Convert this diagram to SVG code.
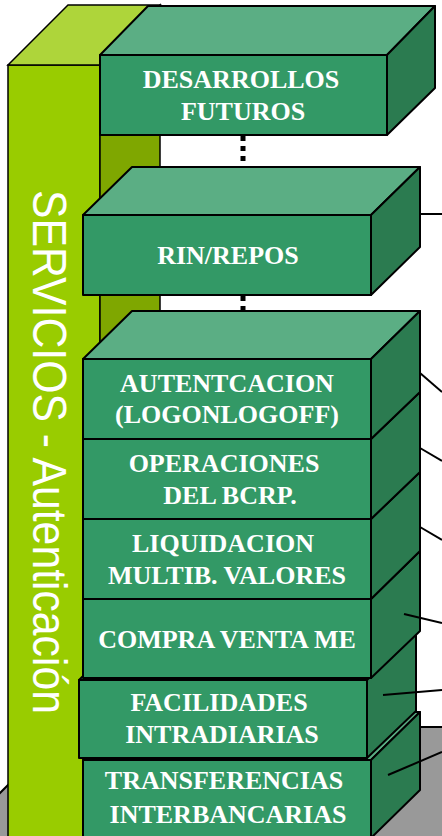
<svg xmlns="http://www.w3.org/2000/svg" width="442" height="836" viewBox="0 0 442 836">
<style>
.front{fill:#339966;stroke:#000;stroke-width:2;stroke-linejoin:round}
.top{fill:#5BAE84;stroke:#000;stroke-width:2;stroke-linejoin:round}
.side{fill:#2B7B50;stroke:#000;stroke-width:2;stroke-linejoin:round}
.lbl{font-family:"Liberation Serif","Times New Roman",serif;font-weight:bold;font-size:26px;fill:#fff;text-anchor:middle}
.conn{stroke:#000;stroke-width:2;fill:none}
.dots{stroke:#000;stroke-width:5;fill:none;stroke-dasharray:5 5}
</style>
<rect width="442" height="836" fill="#fff"/>
<g id="floor">
<polygon points="66,727 442,727 442,836 -43,836" fill="#999999"/>
<polyline points="-43,836 66,727 442,727" fill="none" stroke="#000" stroke-width="2"/>
</g>
<g id="servicios">
<polygon points="8,65 100,65 100,900 8,900" fill="#99CC00" stroke="#000" stroke-width="1.5"/>
<polygon points="8,65 68,5 160,5 100,65" fill="#AED53A" stroke="#000" stroke-width="1.5"/>
<polygon points="100,65 160,5 160,900 100,960" fill="#7FA700" stroke="#000" stroke-width="1.5"/>
<text transform="translate(33,190) rotate(90)" font-family="Liberation Sans, Arial, sans-serif" font-size="48" fill="#fff" textLength="524" lengthAdjust="spacingAndGlyphs">SERVICIOS - Autenticación</text>
</g>
<g id="desarrollos">
<polygon class="top" points="100,55 148,6 435,6 387,55"/>
<polygon class="side" points="387,55 435,6 435,88 387,135"/>
<rect class="front" x="100" y="55" width="287" height="80"/>
<text class="lbl" x="241" y="88">DESARROLLOS</text>
<text class="lbl" x="243" y="120">FUTUROS</text>
</g>
<g id="rin">
<polygon class="top" points="83,215 132,167 420,167 371,215"/>
<polygon class="side" points="371,215 420,167 420,247 371,295"/>
<rect class="front" x="83" y="215" width="288" height="80"/>
<text class="lbl" x="228" y="264">RIN/REPOS</text>
</g>
<g id="transferencias">
<polygon class="top" points="83,760 132,712 420,712 371,760"/>
<polygon class="side" points="371,760 420,712 420,790 371,838"/>
<rect class="front" x="83" y="760" width="288" height="78"/>
<text class="lbl" x="224" y="789">TRANSFERENCIAS</text>
<text class="lbl" x="228" y="823">INTERBANCARIAS</text>
</g>
<g id="facilidades">
<polygon class="top" points="79,680 128,632 416,632 367,680"/>
<polygon class="side" points="367,680 416,632 416,711 367,758"/>
<rect class="front" x="79" y="680" width="288" height="78"/>
<text class="lbl" x="219" y="711">FACILIDADES</text>
<text class="lbl" x="222" y="743">INTRADIARIAS</text>
</g>
<g id="compra">
<polygon class="top" points="83,599 132,551 420,551 371,599"/>
<polygon class="side" points="371,599 420,551 420,631 371,678"/>
<rect class="front" x="83" y="599" width="288" height="79"/>
<text class="lbl" x="227" y="648">COMPRA VENTA ME</text>
</g>
<g id="liquidacion">
<polygon class="top" points="83,519 132,472 420,472 371,519"/>
<polygon class="side" points="371,519 420,472 420,551 371,599"/>
<rect class="front" x="83" y="519" width="288" height="80"/>
<text class="lbl" x="223" y="552">LIQUIDACION</text>
<text class="lbl" x="227" y="584">MULTIB. VALORES</text>
</g>
<g id="operaciones">
<polygon class="top" points="83,439 132,392 420,392 371,439"/>
<polygon class="side" points="371,439 420,392 420,472 371,519"/>
<rect class="front" x="83" y="439" width="288" height="80"/>
<text class="lbl" x="224" y="472">OPERACIONES</text>
<text class="lbl" x="230" y="504">DEL BCRP.</text>
</g>
<g id="autenticacion">
<polygon class="top" points="83,359 132,311 420,311 371,359"/>
<polygon class="side" points="371,359 420,311 420,392 371,439"/>
<rect class="front" x="83" y="359" width="288" height="80"/>
<text class="lbl" x="227" y="392">AUTENTCACION</text>
<text class="lbl" x="227" y="423">(LOGONLOGOFF)</text>
</g>
<g id="connectors">
<line class="dots" x1="243" y1="136" x2="243" y2="166"/>
<line class="dots" x1="243" y1="296" x2="243" y2="310"/>
<line class="conn" x1="420" y1="214" x2="442" y2="214"/>
<line class="conn" x1="420" y1="373" x2="442" y2="392"/>
<line class="conn" x1="420" y1="448" x2="442" y2="461"/>
<line class="conn" x1="420" y1="527" x2="442" y2="540"/>
<line class="conn" x1="404" y1="614" x2="442" y2="623"/>
<line class="conn" x1="383" y1="695" x2="442" y2="690"/>
<line class="conn" x1="388" y1="775" x2="442" y2="752"/>
</g>
</svg>
